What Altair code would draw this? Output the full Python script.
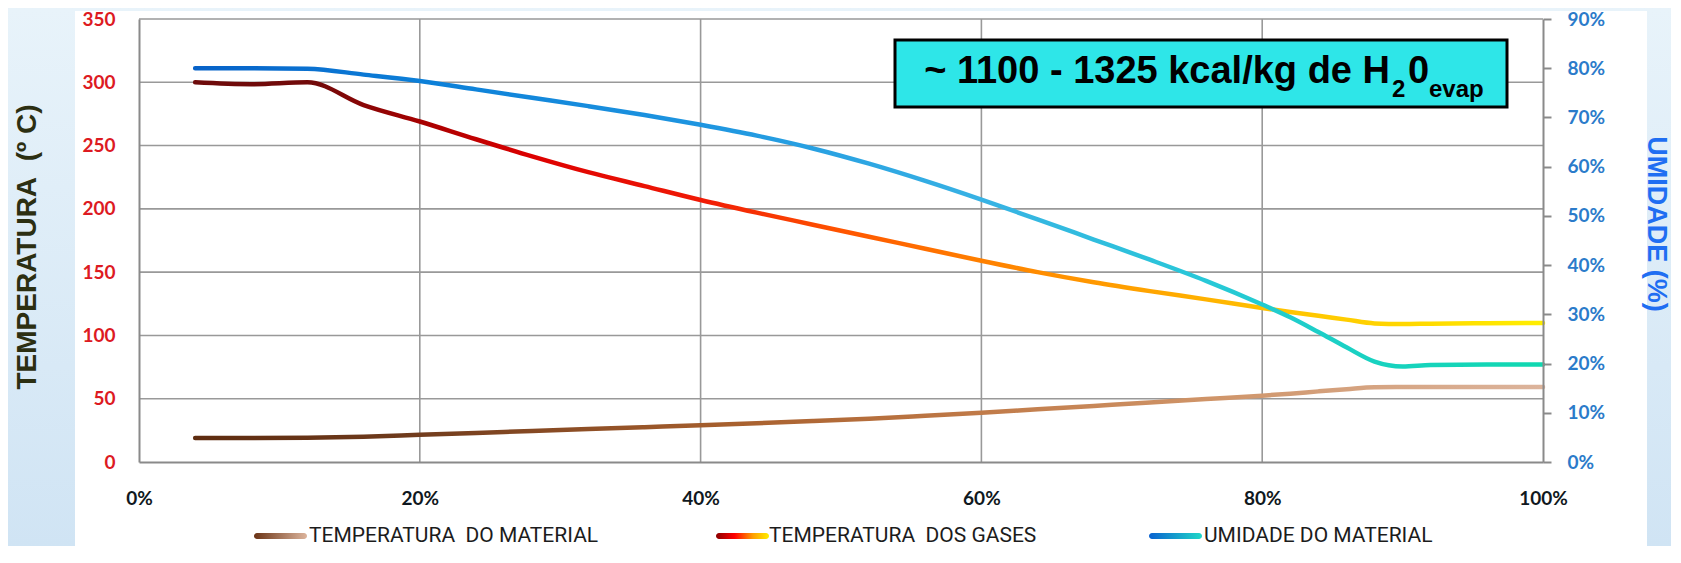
import altair as alt
import pandas as pd

# ---------------- data ----------------
x_pct = [4, 8, 12, 16, 20, 24, 28, 32, 36, 40, 44, 48, 52, 56, 60, 64, 68, 72, 76, 80,
         82, 84, 86, 88, 90, 92, 96, 100]
temp_material = [19, 19, 19.2, 20, 21.5, 23, 24.5, 26, 27.5, 29, 30.6, 32.3, 34.2, 36.5,
                 38.9, 41.6, 44.3, 47, 49.7, 52.4, 54, 55.8, 57.5, 59, 59.2, 59.3, 59.3, 59.3]
temp_gases = [300, 298.5, 300, 282, 269, 255, 241.5, 229, 218, 207, 197, 187.5, 178, 168.5,
              159, 150, 142, 135, 128.5, 121.7, 118.5, 115.5, 112.5, 109.5, 109, 109.3, 109.6, 109.8]
umidade = [80, 80, 79.9, 78.7, 77.4, 75.7, 74, 72.3, 70.5, 68.5, 66.3, 63.7, 60.6, 57.1,
           53.3, 49.3, 45.2, 41.1, 36.8, 32.0, 29.4, 26.4, 23.3, 20.4, 19.4, 19.7, 19.8, 19.8]

temp_ticks = [0, 50, 100, 150, 200, 250, 300, 350]
x_ticks = [0, 20, 40, 60, 80, 100]
umid_ticks = [0, 10, 20, 30, 40, 50, 60, 70, 80, 90]

NB = "\u00a0"
legend_labels = ["TEMPERATURA" + NB + NB + "DO MATERIAL",
                 "TEMPERATURA" + NB + NB + "DOS GASES",
                 "UMIDADE DO MATERIAL"]
title_left = "TEMPERATURA" + NB + NB + "(º C)"
title_right = "UMIDADE (%)"
note_main = "~ 1100 - 1325 kcal/kg de H"
note_sub1 = "2"
note_mid = "0"
note_sub2 = "evap"

df = pd.DataFrame({"x": x_pct, "mat": temp_material, "gas": temp_gases, "umi": umidade})
one = pd.DataFrame({"k": [0]})

# ---------------- styles ----------------
W, H = 1404, 443
PAD = {"left": 131, "top": 11, "right": 128, "bottom": 84}
GRID = "#999999"
AXC = "#8a8a8a"


def grad(stops, vertical=False):
    return {"gradient": "linear", "x1": 0, "y1": 0,
            "x2": 0 if vertical else 1, "y2": 1 if vertical else 0,
            "stops": [{"offset": o, "color": c} for o, c in stops]}


mat_grad = grad([(0, "#5e2c10"), (0.15, "#6e3a1c"), (0.4, "#a8602e"), (0.58, "#c07a48"),
                 (0.75, "#cf9468"), (1, "#dcb49c")])
gas_grad = grad([(0, "#6e0b0b"), (0.09, "#720a0a"), (0.17, "#a80000"), (0.25, "#dd0000"),
                 (0.375, "#f01a06"), (0.48, "#ff5500"), (0.58, "#ff7f00"), (0.71, "#ffa500"),
                 (0.79, "#ffbf00"), (1, "#ffee00")])
umi_grad = grad([(0, "#0762c8"), (0.167, "#0c7fd8"), (0.375, "#1e95e0"), (0.583, "#38b2e4"),
                 (0.75, "#28c8d8"), (0.875, "#18d2c0"), (1, "#10d8b0")])

leg_mat = grad([(0, "#6b3416"), (1, "#dcb49c")])
leg_gas = grad([(0, "#8b0000"), (0.35, "#ff0000"), (0.7, "#ffa000"), (1, "#ffee00")])
leg_umi = grad([(0, "#0a62d0"), (1, "#20d8c8")])

x_scale = alt.Scale(domain=[0, 100], nice=False, zero=False)
t_scale = alt.Scale(domain=[0, 350], nice=False)
u_scale = alt.Scale(domain=[0, 90], nice=False)

x_axis = alt.Axis(values=x_ticks, labelExpr="datum.value + '%'", grid=False, ticks=False,
                  tickSize=0, labelPadding=27, labelFont="Lato", labelFontSize=19,
                  labelFontWeight="bold", labelColor="#101820", domainColor=AXC,
                  domainWidth=2, title=None, zindex=1, labelFlush=False, labelOverlap=False)
t_axis = alt.Axis(values=temp_ticks, grid=False, ticks=False, tickSize=0, labelPadding=24,
                  labelFont="Lato", labelFontSize=19, labelFontWeight="bold",
                  labelColor="#dd1a22", domainColor=AXC, domainWidth=2, title=None, zindex=1,
                  labelOverlap=False)
u_axis = alt.Axis(orient="right", values=umid_ticks, labelExpr="datum.value + '%'", grid=False,
                  ticks=True, tickSize=8, tickWidth=2, tickColor=AXC, labelPadding=16,
                  labelFont="Lato", labelFontSize=19, labelFontWeight="bold",
                  labelColor="#2b7bca", domainColor=AXC, domainWidth=2, title=None, zindex=1,
                  labelOverlap=False)

# ---------------- background ----------------
bg = alt.Chart(one).mark_rect(fill=grad([(0, "#e8f3fa"), (1, "#d0e4f4")], vertical=True)).encode(
    x=alt.value(-PAD["left"]), x2=alt.value(W + PAD["right"]),
    y=alt.value(-PAD["top"]), y2=alt.value(H + PAD["bottom"]))
panel = alt.Chart(one).mark_rect(fill="white").encode(
    x=alt.value(-64), x2=alt.value(1508), y=alt.value(-8), y2=alt.value(H + PAD["bottom"]))

# ---------------- grid + temperature lines ----------------
ygrid = alt.Chart(pd.DataFrame({"v": temp_ticks[1:]})).mark_rule(
    color=GRID, strokeWidth=1.6).encode(y=alt.Y("v:Q", scale=t_scale, axis=t_axis))
xgrid = alt.Chart(pd.DataFrame({"v": x_ticks[1:-1]})).mark_rule(
    color=GRID, strokeWidth=1.6).encode(x=alt.X("v:Q", scale=x_scale, axis=x_axis))

line_mat = alt.Chart(df).mark_line(stroke=mat_grad, strokeWidth=4.5, interpolate="monotone",
                                   strokeCap="round").encode(
    x=alt.X("x:Q", scale=x_scale, axis=x_axis),
    y=alt.Y("mat:Q", scale=t_scale, axis=t_axis))
line_gas = alt.Chart(df).mark_line(stroke=gas_grad, strokeWidth=4.5, interpolate="monotone",
                                   strokeCap="round").encode(
    x=alt.X("x:Q", scale=x_scale, axis=x_axis),
    y=alt.Y("gas:Q", scale=t_scale, axis=t_axis))
temp_layer = alt.layer(ygrid, xgrid, line_mat, line_gas)

line_umi = alt.Chart(df).mark_line(stroke=umi_grad, strokeWidth=4.5, interpolate="monotone",
                                   strokeCap="round").encode(
    x=alt.X("x:Q", scale=x_scale, axis=x_axis),
    y=alt.Y("umi:Q", scale=u_scale, axis=u_axis))

# ---------------- annotation box ----------------
box = alt.Chart(one).mark_rect(fill="#2ee6e8", stroke="#000000", strokeWidth=3).encode(
    x=alt.value(756), x2=alt.value(1368), y=alt.value(21), y2=alt.value(88))
t_main = alt.Chart(one).mark_text(text=note_main, font="Liberation Sans", fontWeight="bold",
                                  fontSize=38, align="right", baseline="alphabetic",
                                  color="#000000").encode(x=alt.value(1251), y=alt.value(64))
t_sub1 = alt.Chart(one).mark_text(text=note_sub1, font="Liberation Sans", fontWeight="bold",
                                  fontSize=24, align="left", baseline="alphabetic",
                                  color="#000000").encode(x=alt.value(1253), y=alt.value(78))
t_mid = alt.Chart(one).mark_text(text=note_mid, font="Liberation Sans", fontWeight="bold",
                                 fontSize=38, align="left", baseline="alphabetic",
                                 color="#000000").encode(x=alt.value(1269), y=alt.value(64))
t_sub2 = alt.Chart(one).mark_text(text=note_sub2, font="Liberation Sans", fontWeight="bold",
                                  fontSize=24, align="left", baseline="alphabetic",
                                  color="#000000").encode(x=alt.value(1290), y=alt.value(78))

# ---------------- axis titles ----------------
title_l = alt.Chart(one).mark_text(text=title_left, angle=270, font="Liberation Sans",
                                   fontWeight="bold", fontSize=28, color="#2c2f12",
                                   align="center", baseline="middle").encode(
    x=alt.value(-111), y=alt.value(228))
title_r = alt.Chart(one).mark_text(text=title_right, angle=90, font="Liberation Sans",
                                   fontWeight="bold", fontSize=27, color="#1f6ef2",
                                   align="center", baseline="middle").encode(
    x=alt.value(1517), y=alt.value(205))

# ---------------- legend ----------------
legend_layers = []
for (sx, tx), g, lab in zip([(115, 170), (577, 630), (1010, 1065)],
                            [leg_mat, leg_gas, leg_umi], legend_labels):
    legend_layers.append(alt.Chart(one).mark_rect(fill=g, cornerRadius=3).encode(
        x=alt.value(sx), x2=alt.value(sx + 53), y=alt.value(514), y2=alt.value(520)))
    legend_layers.append(alt.Chart(one).mark_text(text=lab, font="Roboto", fontSize=21,
                                                  color="#1c1c1c", align="left",
                                                  baseline="middle").encode(
        x=alt.value(tx), y=alt.value(517)))

chart = alt.layer(
    bg, panel, temp_layer, line_umi, box, t_main, t_sub1, t_mid, t_sub2,
    title_l, title_r, *legend_layers
).resolve_scale(y="independent").properties(
    width=W, height=H, padding=PAD,
    autosize=alt.AutoSizeParams(type="none")
).configure_view(stroke=None)

chart.save("out.html", embed_options={"renderer": "svg", "actions": False})
